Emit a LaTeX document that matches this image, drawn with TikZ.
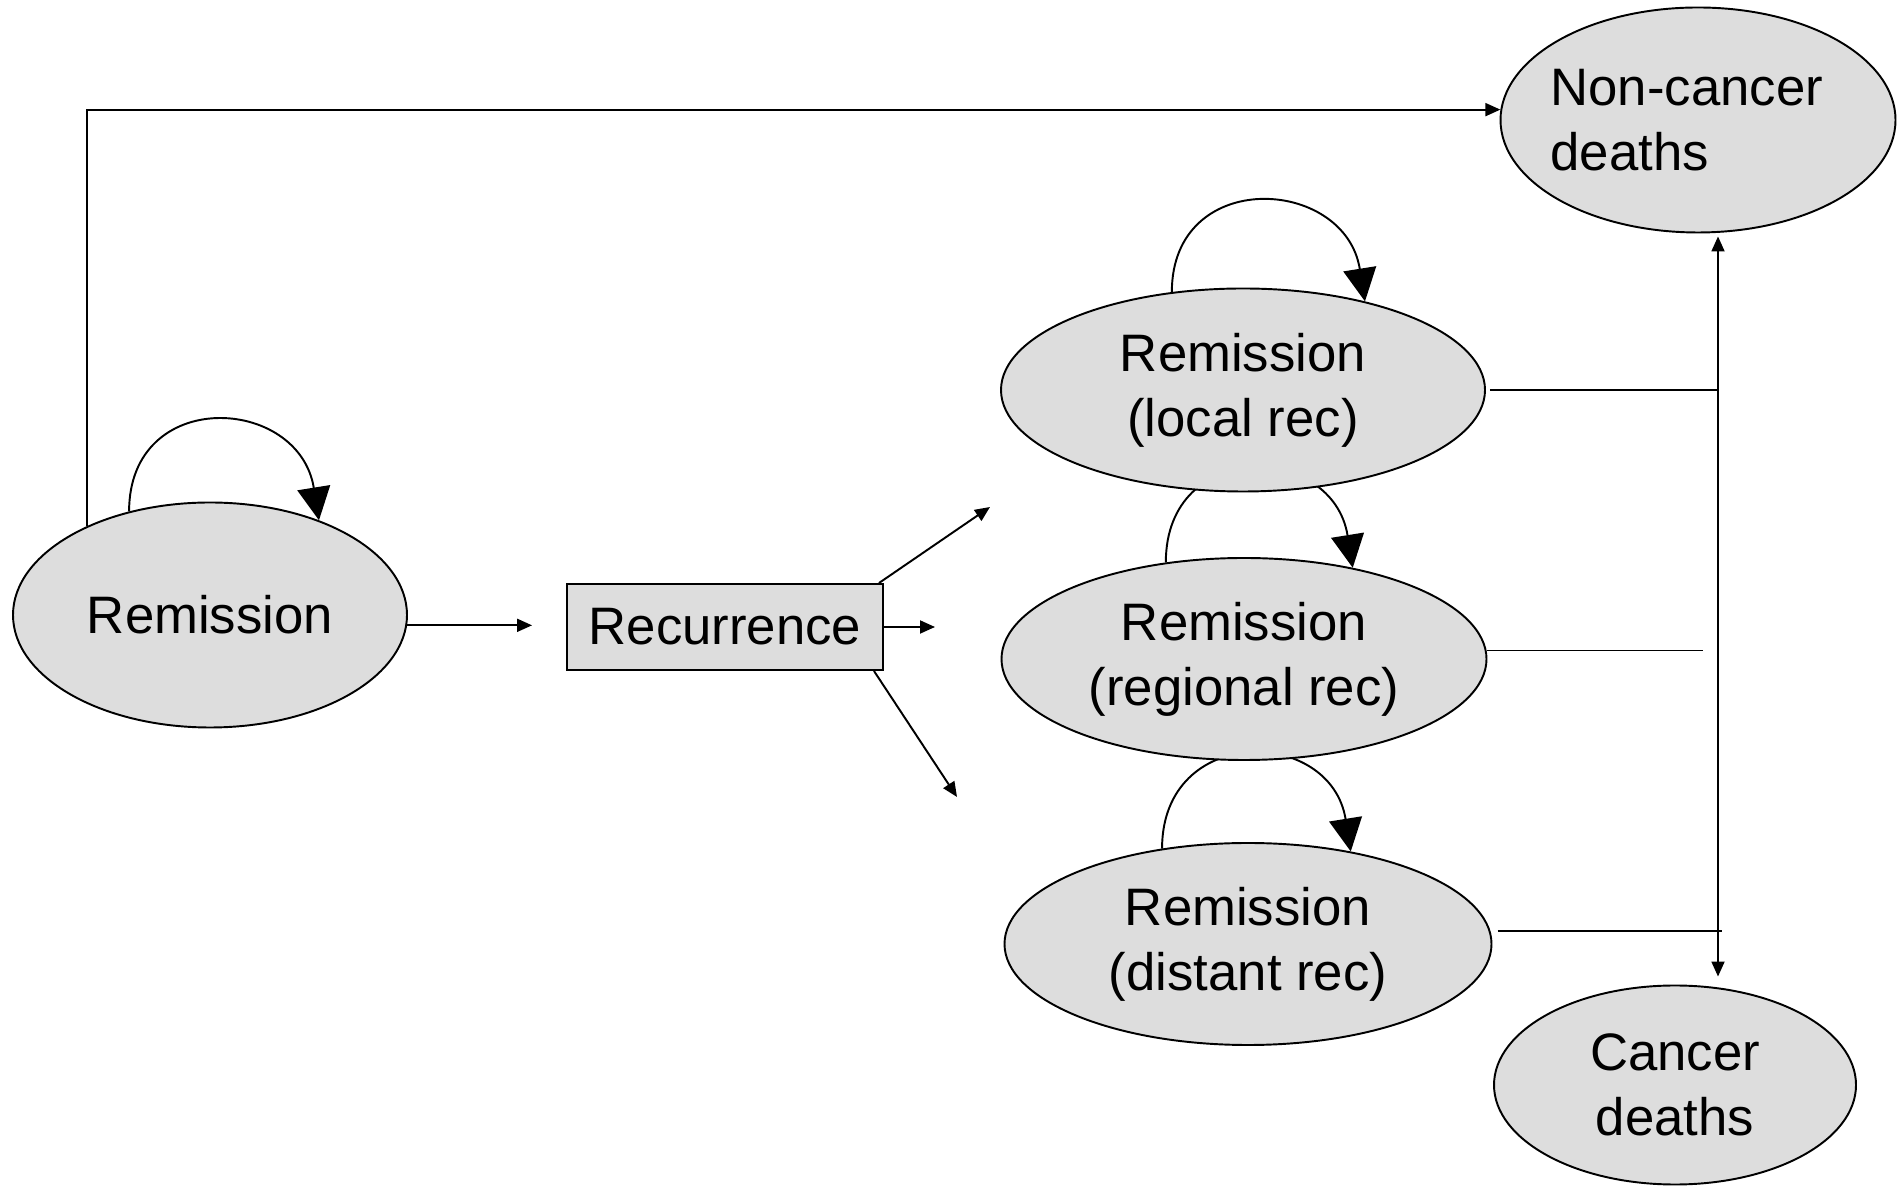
\documentclass[tikz,border=0pt]{standalone}
\usepackage{fontspec}
\setmainfont{Liberation Sans}
\definecolor{stategray}{RGB}{221,221,221}
\usetikzlibrary{arrows.meta,positioning,shapes.geometric,calc,backgrounds}

\begin{document}
\begin{tikzpicture}[
  state/.style={ellipse, draw, line width=1.1pt, fill=stategray, inner sep=0pt, align=center, font=\fontsize{30}{37}\selectfont},
  recbox/.style={rectangle, draw, line width=1.1pt, fill=stategray, inner sep=0pt, font=\fontsize{30}{37}\selectfont},
  arr/.style={-{Triangle[length=0.3cm, width=0.26cm]}, line width=1.1pt},
  selfloop/.style={-{Triangle[length=0.66cm, width=0.66cm]}, line width=1.1pt},
  link/.style={line width=1.1pt}
]
  \useasboundingbox (0,0) rectangle (38.02,23.70);

  %--- States ---
  \node[state, minimum width=7.88cm, minimum height=4.50cm] (rem) at (4.20,11.40) {Remission};
  \node[recbox, minimum width=6.32cm, minimum height=1.72cm] (rec) at (14.50,11.16) {Recurrence};

  % Remission after recurrence
  \node[state, minimum width=9.68cm, minimum height=4.06cm] (loc) at (24.86,15.90) {Remission\\(local rec)};
  \node[state, minimum width=9.70cm, minimum height=4.04cm] (reg) at (24.88,10.52) {Remission\\(regional rec)};
  \node[state, minimum width=9.74cm, minimum height=4.04cm] (dis) at (24.96,4.82) {Remission\\(distant rec)};

  % Absorbing states
  \node[state, align=left, text width=5.9cm, inner xsep=-0.3cm, minimum width=7.90cm, minimum height=4.50cm] (nc) at (33.96,21.30) {Non-cancer\\deaths};
  \node[state, minimum width=7.24cm, minimum height=3.98cm] (cd) at (33.50,2.00) {Cancer\\deaths};

  %--- Free ends and junction ---
  \coordinate (toloc) at (19.80,13.56);
  \coordinate (toreg) at (18.70,11.16);
  \coordinate (todis) at (19.14,7.76);
  \coordinate (j) at (34.36,15.90);

  %--- Transitions ---
  \draw[arr] (rem.144) |- (nc.177);
  \draw[arr, shorten >=0.68cm] (rem.-3) -- (rem.-3 -| rec.west);
  \draw[arr] ([xshift=-0.1cm]rec.north east) -- (toloc);
  \draw[arr] (rec.east) -- (toreg);
  \draw[arr] ([xshift=-0.2cm]rec.south east) -- (todis);

  % Lines to the deaths
  \draw[link, shorten <=0.08cm] (loc.east) -- (j);
  \draw[link, shorten >=0.3cm] (reg.2) -- (reg.2 -| j);
  \draw[link, shorten <=0.14cm, shorten >=-0.08cm] (dis.3) -- (dis.3 -| j);
  \draw[arr, shorten >=0.06cm] (j) -- (j |- nc.south);
  \draw[arr, shorten >=0.16cm] (j) -- (j |- cd.north);

  %--- Self loops (behind the states) ---
  \begin{scope}[on background layer]
    \draw[selfloop] (rem.128) .. controls +(0,2.5) and +(-0.4,2.5) .. (rem.41);
    \draw[selfloop] (loc.126) .. controls +(0,2.5) and +(-0.4,2.5) .. (loc.36);
    \draw[selfloop] (reg.129) .. controls +(0,2.5) and +(-0.4,2.5) .. (reg.40);
    \draw[selfloop] (dis.132) .. controls +(0,2.5) and +(-0.4,2.5) .. (dis.42);
  \end{scope}
\end{tikzpicture}
\end{document}
